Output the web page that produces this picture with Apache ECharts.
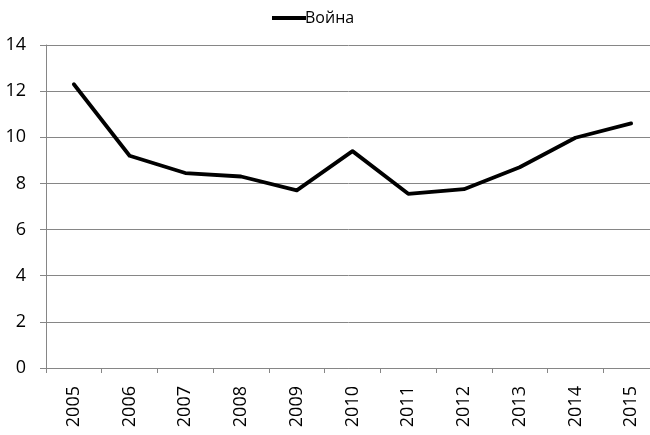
<!DOCTYPE html>
<html>
<head>
<meta charset="utf-8">
<script src="https://cdn.jsdelivr.net/npm/echarts@6/dist/echarts.min.js"></script>
<style>
  html, body { margin: 0; padding: 0; background: #fff; }
  #chart { width: 650px; height: 435px; }
</style>
</head>
<body>
<div id="chart"></div>
<script>
var years = ["2005", "2006", "2007", "2008", "2009", "2010", "2011", "2012", "2013", "2014", "2015"];
var vojnaValues = [12.3, 9.2, 8.45, 8.3, 7.7, 9.4, 7.55, 7.75, 8.7, 9.98, 10.6];
var seriesName = "Война";

var chart = echarts.init(document.getElementById("chart"));
var fontFamily = "'Open Sans', 'Liberation Sans', sans-serif";

var option = {
  animation: false,
  legend: {
    left: 267,
    top: 5,
    itemWidth: 34,
    itemHeight: 4,
    itemGap: 10,
    data: [{ name: seriesName, icon: "rect" }],
    textStyle: { color: "#000", fontSize: 16, fontFamily: fontFamily, padding: [0, 0, 0, -6] }
  },
  grid: {
    left: 46,
    top: 45,
    width: 613,
    height: 323,
    outerBoundsMode: "none"
  },
  xAxis: {
    type: "category",
    data: years,
    boundaryGap: true,
    axisLine: { lineStyle: { color: "#868686", width: 1 } },
    axisTick: { show: true, length: 5, lineStyle: { color: "#868686" } },
    axisLabel: {
      rotate: 90,
      margin: 18,
      color: "#000",
      fontSize: 18,
      fontFamily: fontFamily
    },
    splitLine: { show: false }
  },
  yAxis: {
    type: "value",
    min: 0,
    max: 14,
    interval: 2,
    axisLine: { show: true, lineStyle: { color: "#868686", width: 1 } },
    axisTick: { show: true, length: 6, lineStyle: { color: "#868686" } },
    axisLabel: {
      margin: 20,
      color: "#000",
      fontSize: 18,
      fontFamily: fontFamily
    },
    splitLine: { show: true, lineStyle: { color: "#868686", width: 1 } }
  },
  series: [
    {
      name: seriesName,
      type: "line",
      data: vojnaValues,
      symbol: "none",
      lineStyle: { color: "#000", width: 3.8, cap: "round", join: "round" },
      itemStyle: { color: "#000" }
    }
  ]
};
chart.setOption(option);
</script>
</body>
</html>
